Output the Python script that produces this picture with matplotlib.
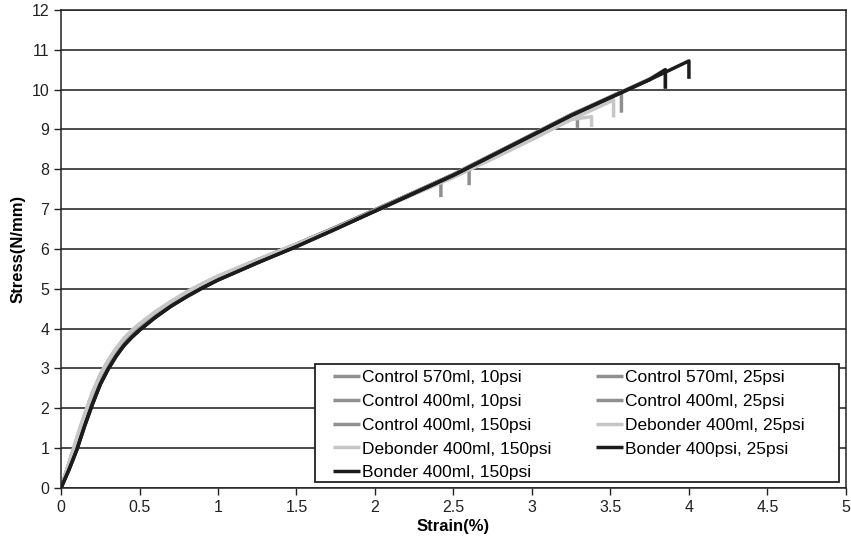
import matplotlib.pyplot as plt
from matplotlib.patches import Rectangle
import numpy as np

plt.rcParams['font.family'] = ['Liberation Sans', 'DejaVu Sans']

# shared strain points of the stress-strain curves (%)
strain_pts = [0, 0.05, 0.1, 0.15, 0.2, 0.25, 0.3, 0.35, 0.4, 0.45, 0.5, 0.6, 0.7,
              0.8, 0.9, 1.0, 1.25, 1.5, 1.75, 2.0, 2.25, 2.5, 2.75, 3.0, 3.25,
              3.5, 3.75, 4.0]
# stress read for each group of specimens (N/mm)
stress_control = [0, 0.6, 1.2, 1.8, 2.35, 2.8, 3.15, 3.45, 3.7, 3.9, 4.07, 4.38, 4.65,
                  4.88, 5.1, 5.3, 5.72, 6.12, 6.54, 6.98, 7.42, 7.87, 8.37, 8.87, 9.37,
                  9.82, 10.27, 10.72]
stress_debonder = [0, 0.62, 1.25, 1.85, 2.4, 2.85, 3.2, 3.5, 3.75, 3.95, 4.12, 4.42, 4.68,
                   4.92, 5.13, 5.32, 5.73, 6.12, 6.52, 6.95, 7.38, 7.8, 8.27, 8.75, 9.25,
                   9.7, 10.15, 10.6]
stress_bonder = [0, 0.45, 0.95, 1.55, 2.1, 2.6, 2.98, 3.3, 3.57, 3.78, 3.96, 4.28, 4.56,
                 4.8, 5.02, 5.22, 5.65, 6.06, 6.5, 6.95, 7.4, 7.85, 8.35, 8.85, 9.35,
                 9.8, 10.25, 10.7]

labels = ['Control 570ml, 10psi', 'Control 570ml, 25psi',
          'Control 400ml, 10psi', 'Control 400ml, 25psi',
          'Control 400ml, 150psi', 'Debonder 400ml, 25psi',
          'Debonder 400ml, 150psi', 'Bonder 400psi, 25psi',
          'Bonder 400ml, 150psi']
groups = ['control', 'control', 'control', 'control', 'control',
          'debonder', 'debonder', 'bonder', 'bonder']
# failure point: strain, stress at break, stress after the drop
break_strain = [2.42, 2.6, 3.29, 3.57, 3.85, 3.38, 3.52, 3.85, 4.0]
break_stress = [7.72, 8.0, 9.45, 9.95, 10.5, 9.32, 9.75, 10.5, 10.72]
drop_stress = [7.3, 7.6, 9.04, 9.42, 10.04, 9.06, 9.3, 10.02, 10.27]

shapes = {'control': stress_control, 'debonder': stress_debonder, 'bonder': stress_bonder}
colors = {'control': '#8f8f8f', 'debonder': '#c6c6c6', 'bonder': '#1c1c1c'}

fig = plt.figure(figsize=(8.51, 5.52), dpi=100)
ax = fig.add_axes([0.0717, 0.116, 0.9223, 0.866])

lines = []
for i in range(len(labels)):
    g = groups[i]
    xs = np.array(strain_pts)
    ys = np.array(shapes[g])
    keep = xs < break_strain[i]
    px = list(xs[keep]) + [break_strain[i], break_strain[i]]
    py = list(ys[keep]) + [break_stress[i], drop_stress[i]]
    ln, = ax.plot(px, py, color=colors[g], lw=2.5, label=labels[i],
                  solid_joinstyle='round', solid_capstyle='butt')
    lines.append(ln)

ax.set_xlim(0, 5)
ax.set_ylim(0, 12)
ax.set_xticks(np.arange(0, 5.01, 0.5))
ax.set_xticklabels(['0', '0.5', '1', '1.5', '2', '2.5', '3', '3.5', '4', '4.5', '5'])
ax.set_yticks(range(0, 13))
ax.yaxis.grid(True, color='#1a1a1a', lw=1.1)
ax.set_axisbelow(True)
ax.tick_params(direction='out', length=5, width=1, labelsize=11.5, colors='#222222')
for s in ax.spines.values():
    s.set_color('#222222')
    s.set_linewidth(1.1)

ax.set_xlabel('Strain(%)', fontsize=12, fontweight='bold', labelpad=3)
ax.set_ylabel('Stress(N/mm)', fontsize=12, fontweight='bold', labelpad=4)

# legend box, wider than its entries
ax.add_patch(Rectangle((0.3232, 0.0132), 0.6683, 0.2456, transform=ax.transAxes,
                       facecolor='white', edgecolor='#222222', lw=1.3, zorder=4))

# legend reads row by row, matplotlib fills column by column
order = [0, 2, 4, 6, 8, 1, 3, 5, 7]
leg = ax.legend([lines[k] for k in order], [labels[k] for k in order],
                ncol=2, loc='upper left', bbox_to_anchor=(0.3465, 0.247),
                fontsize=12.5, frameon=False, handlelength=1.55,
                handletextpad=0.12, columnspacing=2.6, labelspacing=0.5,
                borderpad=0, borderaxespad=0)
leg.set_zorder(5)

fig.savefig('out.png', dpi=100)
